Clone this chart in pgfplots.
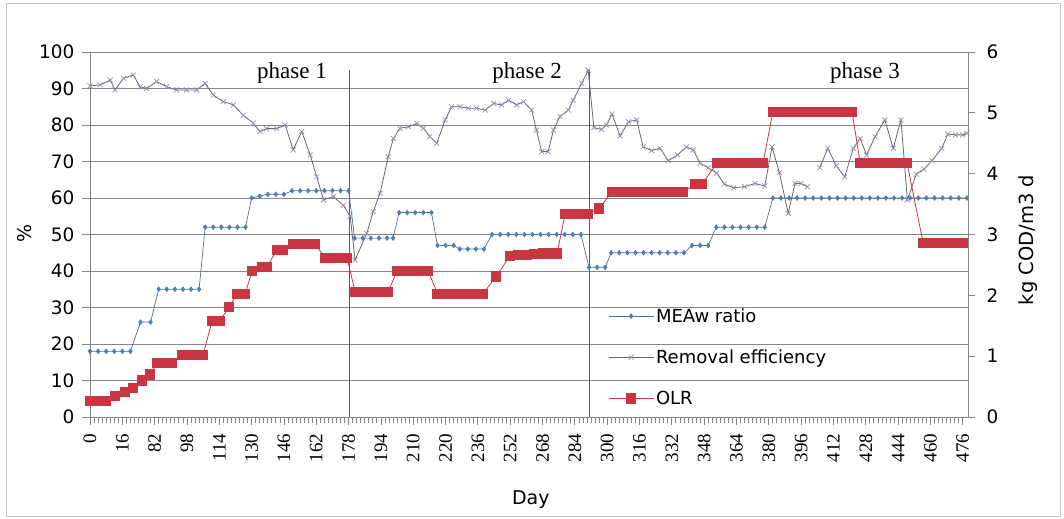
\documentclass[border=0pt]{standalone}
\usepackage{pgfplots}
\pgfplotsset{compat=1.18}
\usepackage{fontspec}
\setmainfont{DejaVu Sans}
\newfontfamily\serifface{Liberation Serif}

\definecolor{gridgray}{RGB}{134,134,134}
\definecolor{meablue}{RGB}{74,126,187}
\definecolor{mealine}{RGB}{82,112,140}
\definecolor{remline}{RGB}{105,100,118}
\definecolor{remmark}{RGB}{150,140,175}
\definecolor{remleg}{RGB}{128,100,162}
\definecolor{olrred}{RGB}{200,55,65}

\begin{document}
\begin{tikzpicture}
% left axis: MEA/w ratio and removal efficiency (%)
\begin{axis}[
  name=ax,
  scale only axis,
  width=878pt, height=365pt,
  xmin=0, xmax=217.3,
  ymin=0, ymax=100,
  clip=false,
  unbounded coords=jump,
  ytick={0,10,...,100},
  ytick pos=left, xtick pos=bottom,
  tick align=outside,
  major tick length=8pt, minor tick length=6pt,
  xtick={0,8,...,216},
  xticklabels={0,16,82,98,114,130,146,162,178,194,210,220,236,252,268,284,300,316,332,348,364,380,396,412,428,444,460,476},
  minor x tick num=7,
  ymajorgrids,
  grid style={gridgray, line width=0.8pt},
  axis line style={gridgray, line width=0.8pt},
  tick style={gridgray, line width=0.8pt},
  /pgf/number format/assume math mode=true,
  yticklabel style={font=\fontsize{18.5}{18.5}\selectfont, xshift=-4pt},
  xticklabel style={rotate=90, anchor=east, xshift=-5pt, font=\serifface\fontsize{19}{19}\selectfont},
  ylabel={\%},
  ylabel style={at={(axis description cs:-0.074,0.504)}, anchor=center, font=\fontsize{19}{19}\selectfont},
  xlabel={Day},
  xlabel style={at={(axis description cs:0.502,-0.225)}, anchor=center, font=\fontsize{19}{19}\selectfont},
  legend style={at={(axis description cs:0.59,0.303)}, anchor=north west, draw=none, fill=none,
    font=\fontsize{18}{18}\selectfont, row sep=22pt, inner sep=0pt},
  legend cell align=left,
  legend image code/.code={
    \draw[#1] (0pt,0pt) -- (45pt,0pt);
    \draw[#1, only marks] plot coordinates {(22.5pt,0pt)};
  },
]

% phase separators
\addplot[gridgray!70!black, line width=0.8pt, forget plot] coordinates {(64.3,0) (64.3,95)};
\addplot[gridgray!70!black, line width=0.8pt, forget plot] coordinates {(123.5,0) (123.5,95)};
\node[font=\serifface\fontsize{23}{23}\selectfont] at (axis cs:50,94.2) {phase 1};
\node[font=\serifface\fontsize{23}{23}\selectfont] at (axis cs:108.2,94.2) {phase 2};
\node[font=\serifface\fontsize{23}{23}\selectfont] at (axis cs:191.8,94.2) {phase 3};

% MEA/w ratio
\addplot[mealine, line width=0.7pt, mark=diamond*, mark size=2.3pt,
  mark options={meablue, fill=meablue}] coordinates {
 (0,18)(2,18)(4,18)(6,18)(8,18)(10,18)
 (12.5,26)(15,26)
 (17,35)(19,35)(21,35)(23,35)(25,35)(27,35)
 (28.5,52)(30.5,52)(32.5,52)(34.5,52)(36.5,52)(38.5,52)
 (40,60)(42,60.5)(44,61)(46,61)(48,61)(50,62)(52,62)(54,62)(56,62)(58,62)(60,62)(62,62)(64,62)
 (65.5,49)(67.5,49)(69.5,49)(71.5,49)(73.5,49)(75,49)
 (76.5,56)(78.5,56)(80.5,56)(82.5,56)(84.5,56)
 (86,47)(88,47)(90,47)
 (91.5,46)(93.5,46)(95.5,46)(97.5,46)
 (99.5,50)(101.5,50)(103.5,50)(105.5,50)(107.5,50)(109.5,50)(111.5,50)(113.5,50)(115.5,50)(117.5,50)(119.5,50)(121.5,50)
 (123.5,41)(125.5,41)(127.5,41)
 (129,45)(131,45)(133,45)(135,45)(137,45)(139,45)(141,45)(143,45)(145,45)(147,45)
 (149,47)(151,47)(153,47)
 (155,52)(157,52)(159,52)(161,52)(163,52)(165,52)(167,52)
 (169,60)(171,60)(173,60)(175,60)(177,60)(179,60)(181,60)(183,60)(185,60)(187,60)(189,60)(191,60)(193,60)
 (195,60)(197,60)(199,60)(201,60)(203,60)(205,60)(207,60)(209,60)(211,60)(213,60)(215,60)(217,60)
};
\addlegendentry{MEAw ratio}

% removal efficiency
\addplot[remline, line width=0.8pt, mark=x, mark size=3.5pt,
  mark options={remmark, line width=0.7pt}] coordinates {
 (0,90.7)(2.5,91)(5,92.3)(6.2,89.6)(8.3,92.8)(10.7,93.7)(12.4,90.5)(14,90)(16.5,91.9)(19,90.5)
 (21.4,89.6)(23.9,89.6)(26.4,89.6)(28.5,91.4)(30.5,88.2)(33,86.4)(35.5,85.5)(37.9,82.7)(40.4,80.5)
 (42.1,78.2)(43.7,79)(46.2,79)(48.3,80)(50.3,73.2)(52.4,78.2)(54.5,71.8)(56.1,65.8)(57.8,59.5)
 (60.2,60.4)(62.7,58)(64.4,55)
 (65.6,43)(68.5,50.3)(70.1,56.3)(71.8,61.3)(73.8,71.3)(75.1,76.3)(76.7,79.1)(78.8,79.5)(80.9,80.4)
 (82.5,79.1)(84.1,76.8)(85.8,75)(87.9,81.4)(89.5,85)(91.6,85)(93.6,84.6)(95.7,84.6)(97.8,84.1)
 (99.9,85.9)(101.9,85.5)(103.6,86.8)(105.6,85.5)(107.3,86.4)(109.3,84.1)(110.5,78.6)(111.8,72.7)
 (113.4,72.7)(114.7,78.6)(116.3,82.3)(118.4,84.1)(119.6,86.8)(121.7,91.4)(123.3,95)
 (124.7,79.3)(126.6,78.8)(127.8,80)(129.2,83)(131.2,77)(133.3,80.9)(135.3,81.4)(136.9,74)(139,73)
 (141.1,73.6)(143.1,70.2)(145.4,71.8)(147.6,74)(149.3,73.2)(151,69.5)(153,68.3)(155.1,66.8)
 (157,63.8)(159.3,62.8)(162,63.1)(164.6,64)(167,63.3)(168.8,74)(170.6,67)(172.8,55.8)(174.5,64)
 (176,64)(177.5,63.1)
 (179,nan)
 (180.6,68.3)(182.6,73.6)(184.7,68.8)(186.8,65.8)(188.9,73.6)(190.6,76.3)(192.2,71.8)(194.3,76.8)
 (196.7,81.4)(198.8,73.6)(200.7,81.4)(202.3,59.5)(204.5,66.5)(206.4,67.9)(208.4,70.2)(210.8,73.6)
 (212.3,77.5)(214.2,77.3)(216,77.3)(217,77.7)
};
\addlegendentry{Removal efficiency}

\addlegendimage{olrred, line width=0.8pt, mark=square*, mark size=4.6pt, mark options={fill=olrred}}
\addlegendentry{OLR}
\end{axis}

% right axis: organic loading rate
\begin{axis}[
  scale only axis,
  width=878pt, height=365pt,
  xmin=0, xmax=217.3,
  ymin=0, ymax=6,
  clip=false,
  axis y line*=right,
  axis x line=none,
  ytick={0,1,...,6},
  tick align=outside,
  major tick length=7pt,
  axis line style={gridgray, line width=0.8pt},
  tick style={gridgray, line width=0.8pt},
  /pgf/number format/assume math mode=true,
  yticklabel style={font=\fontsize{18.5}{18.5}\selectfont, xshift=8pt},
  ylabel={kg COD/m3 d},
  ylabel style={at={(axis description cs:1.068,0.485)}, anchor=center, font=\fontsize{19.5}{19.5}\selectfont},
]
\addplot[olrred, line width=0.8pt, mark=square*, mark size=4.6pt,
  mark options={fill=olrred}] coordinates {
 (0,0.26)(1.5,0.26)(3,0.26)(4,0.26)
 (6.2,0.35)(8.7,0.41)(10.6,0.48)(12.9,0.60)(14.9,0.70)
 (16.6,0.89)(18.5,0.89)(20.3,0.89)
 (22.8,1.02)(24.5,1.02)(26.2,1.02)(28,1.02)
 (30.2,1.58)(32.2,1.58)
 (34.4,1.81)
 (36.4,2.02)(38.4,2.02)
 (40.1,2.40)
 (42.6,2.47)(43.8,2.47)
 (46.3,2.75)(47.8,2.75)
 (50.2,2.84)(52,2.84)(54,2.84)(55.7,2.84)
 (58.2,2.62)(60,2.62)(62,2.62)(63.6,2.62)
 (65.6,2.06)(67.5,2.06)(69.5,2.06)(71.5,2.06)(73.8,2.06)
 (76,2.40)(78,2.40)(80,2.40)(82,2.40)(83.7,2.40)
 (86,2.03)(88,2.03)(90,2.03)(92,2.03)(94,2.03)(96,2.03)(97.3,2.03)
 (100.5,2.31)
 (104,2.65)(106,2.66)(108,2.67)(110,2.68)(112,2.69)(114,2.69)(115.6,2.69)
 (117.6,3.34)(119.5,3.34)(121.5,3.34)(123.3,3.34)
 (126,3.43)
 (129.2,3.70)(131,3.70)(133,3.70)(135,3.70)(137,3.70)(139,3.70)(141,3.70)(143,3.70)(145,3.70)(146.8,3.70)
 (149.8,3.83)(151.5,3.83)
 (155.2,4.18)(157,4.18)(159,4.18)(161,4.18)(163,4.18)(165,4.18)(166.6,4.18)
 (169,5.02)(171,5.02)(173,5.02)(175,5.02)(177,5.02)(179,5.02)(181,5.02)(183,5.02)(185,5.02)(187,5.02)(188.6,5.02)
 (190.6,4.18)(192.5,4.18)(194.5,4.18)(196.5,4.18)(198.5,4.18)(200.5,4.18)(202.2,4.18)
 (206.2,2.86)(208,2.86)(210,2.86)(212,2.86)(214,2.86)(216.1,2.86)
};
\end{axis}

% chart frame and page size
\draw[gray!45, line width=0.8pt] ([shift={(-84pt,-99pt)}]ax.south west) rectangle ([shift={(92pt,49pt)}]ax.north east);
\path ([shift={(-90pt,-102pt)}]ax.south west) rectangle ([shift={(96pt,52pt)}]ax.north east);
\end{tikzpicture}
\end{document}
